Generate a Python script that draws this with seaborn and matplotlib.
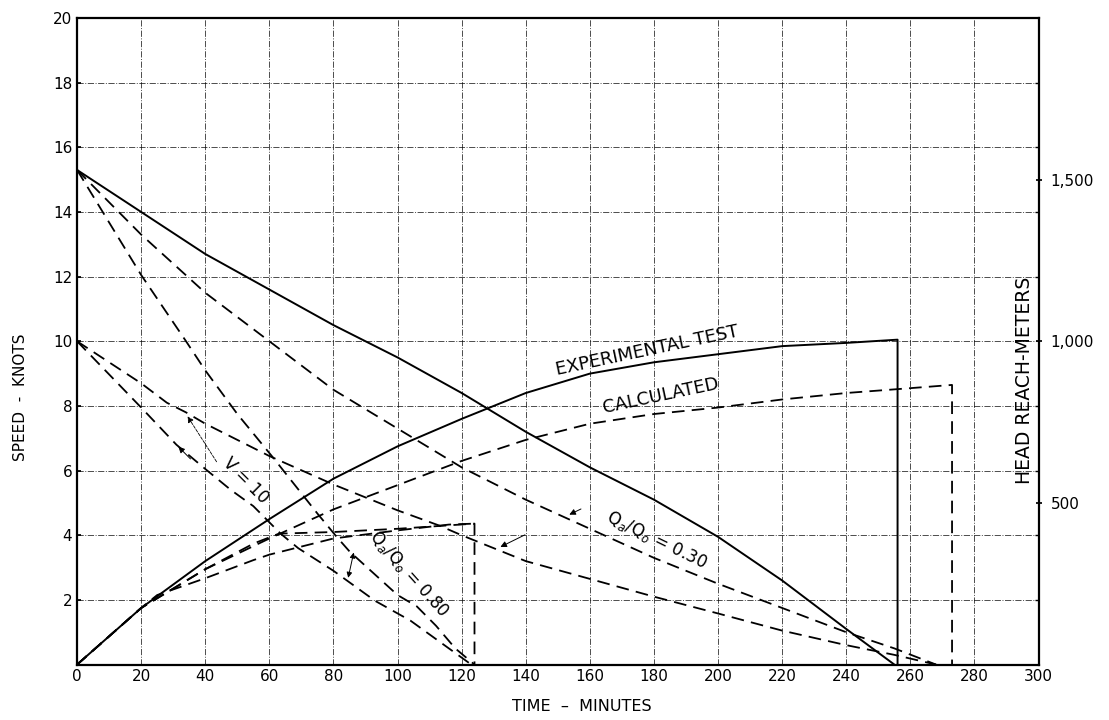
import matplotlib
matplotlib.use("Agg")
import matplotlib.pyplot as plt
import pandas as pd
import seaborn as sns

# values: time in minutes, speed / reach in knot-axis units
exp_speed_t = [0, 20, 40, 60, 80, 100, 120, 140, 160, 180, 200, 220, 240, 255]
exp_speed_v = [15.3, 14.0, 12.7, 11.6, 10.5, 9.5, 8.4, 7.2, 6.1, 5.1, 3.95, 2.6, 1.1, 0.0]

exp_reach_t = [0, 20, 40, 60, 80, 100, 120, 140, 160, 180, 200, 220, 240, 256, 256]
exp_reach_v = [0, 1.75, 3.2, 4.5, 5.75, 6.75, 7.6, 8.4, 9.0, 9.35, 9.6, 9.85, 9.95, 10.05, 0]

calc_reach_t = [0, 20, 40, 60, 80, 100, 120, 140, 160, 180, 200, 220, 240, 260, 273, 273]
calc_reach_v = [0, 1.75, 2.95, 3.9, 4.8, 5.55, 6.3, 6.95, 7.45, 7.75, 7.95, 8.2, 8.4, 8.55, 8.65, 0]

q30_v15_t = [0, 20, 40, 60, 80, 100, 120, 140, 160, 180, 200, 220, 240, 255, 268]
q30_v15_v = [15.3, 13.3, 11.5, 10.0, 8.5, 7.3, 6.1, 5.1, 4.2, 3.3, 2.5, 1.75, 1.0, 0.5, 0.0]

q80_v15_t = [0, 20, 34, 40, 50, 61.5, 75, 81, 85, 95, 100, 106, 112, 118, 124]
q80_v15_v = [15.3, 12.05, 10.0, 9.1, 7.75, 6.36, 4.67, 3.95, 3.5, 2.6, 2.15, 1.8, 1.2, 0.5, 0.0]

q80_v10_t = [0, 20, 31, 40, 48, 55, 63.5, 69, 80, 93, 104, 116, 123]
q80_v10_v = [10.0, 7.95, 6.8, 6.05, 5.4, 4.9, 4.05, 3.6, 2.9, 1.97, 1.36, 0.5, 0.0]

q30_v10_t = [0, 20, 28, 34, 40, 55, 60, 80, 100, 113, 120, 140, 160, 180, 200, 220, 240, 255, 268]
q30_v10_v = [10.0, 8.7, 8.1, 7.8, 7.45, 6.7, 6.45, 5.57, 4.77, 4.3, 4.0, 3.2, 2.65, 2.1, 1.58, 1.05, 0.6, 0.3, 0.0]

reach_a_t = [0, 20, 40, 55, 63, 80, 100, 124, 124]
reach_a_v = [0, 1.75, 2.95, 3.74, 4.05, 4.1, 4.2, 4.36, 0]

reach_b_t = [0, 20, 25, 40, 55, 60, 80, 100, 116, 124]
reach_b_v = [0, 1.75, 2.15, 2.67, 3.23, 3.4, 3.9, 4.15, 4.33, 4.36]

x_ticks = list(range(0, 301, 20))
y_ticks = list(range(2, 21, 2))
reach_ticks = [500, 1000, 1500]
reach_labels = ["500", "1,000", "1,500"]

sns.set_theme(style="white")
plt.rcParams["font.family"] = ["DejaVu Sans"]
plt.rcParams.update({"text.color": "black", "axes.labelcolor": "black",
                     "xtick.color": "black", "ytick.color": "black"})

fig = plt.figure(figsize=(11.09, 7.2), dpi=100)
ax = fig.add_axes([0.0695, 0.077, 0.867, 0.898])

DASH = (7, 4)


def draw(t, v, dashed=False, lw=1.3):
    df = pd.DataFrame({"t": t, "v": v})
    sns.lineplot(data=df, x="t", y="v", ax=ax, sort=False, estimator=None,
                 color="black", lw=lw,
                 linestyle=(0, DASH) if dashed else "-")


draw(exp_speed_t, exp_speed_v, lw=1.4)
draw(exp_reach_t, exp_reach_v, lw=1.4)
draw(calc_reach_t, calc_reach_v, dashed=True)
draw(q30_v15_t, q30_v15_v, dashed=True)
draw(q80_v15_t, q80_v15_v, dashed=True)
draw(q80_v10_t, q80_v10_v, dashed=True)
draw(q30_v10_t, q30_v10_v, dashed=True)
draw(reach_a_t, reach_a_v, dashed=True)
draw(reach_b_t, reach_b_v, dashed=True)

ax.set_xlim(0, 300)
ax.set_ylim(0, 20)
ax.set_xticks(x_ticks)
ax.set_yticks(y_ticks)
ax.tick_params(axis="both", labelsize=11, length=3, direction="in")
ax.grid(True, color="black", linestyle="-.", lw=0.7, alpha=0.7)
for s in ax.spines.values():
    s.set_color("black")
    s.set_linewidth(1.6)
ax.set_xlabel("TIME  –  MINUTES", fontsize=11.5)
ax.xaxis.set_label_coords(0.525, -0.054)
ax.set_ylabel("SPEED  -  KNOTS", fontsize=11)
ax.yaxis.set_label_coords(-0.051, 0.413)

ax2 = ax.twinx()
ax2.set_ylim(0, 2000)
ax2.set_yticks(reach_ticks)
ax2.set_yticklabels(reach_labels)
ax2.set_yticks(list(range(200, 2000, 200)), minor=True)
ax2.tick_params(axis="y", which="major", labelsize=11, length=5, direction="inout", pad=6)
ax2.tick_params(axis="y", which="minor", length=3, direction="in", color="black")
ax2.grid(False)
for s in ax2.spines.values():
    s.set_visible(False)
ax.text(0.985, 0.44, "HEAD REACH-METERS", transform=ax.transAxes, rotation=90,
        ha="center", va="center", fontsize=13.5)

# curve labels
ax.text(178, 9.72, "EXPERIMENTAL TEST", rotation=12, ha="center", va="center", fontsize=13)
ax.text(182, 8.3, "CALCULATED", rotation=12, ha="center", va="center", fontsize=13)
ax.text(181, 3.85, r"Q$_a$/Q$_o$ = 0.30", rotation=-26, ha="center", va="center", fontsize=12)
ax.text(103.5, 2.8, r"Q$_a$/Q$_o$ = 0.80", rotation=-48, ha="center", va="center", fontsize=12)
ax.text(52.5, 5.7, "V = 10", rotation=-45, ha="center", va="center", fontsize=12)

# leader lines
arrow = dict(arrowstyle="-|>", color="black", lw=0.7, mutation_scale=9)
ax.annotate("", xy=(152.8, 4.6), xytext=(158, 4.85), arrowprops=arrow)
ax.annotate("", xy=(131.3, 3.6), xytext=(140.5, 4.05), arrowprops=arrow)
ax.annotate("", xy=(86.5, 3.55), xytext=(84.4, 2.6),
            arrowprops=dict(arrowstyle="<|-|>", color="black", lw=0.7, mutation_scale=8))
ax.annotate("", xy=(34, 7.75), xytext=(44, 6.2),
            arrowprops=dict(arrowstyle="-|>", color="black", lw=0.6, ls="--", mutation_scale=9))
ax.annotate("", xy=(31, 6.8), xytext=(36, 6.3), arrowprops=arrow)

fig.savefig("out.png", dpi=100)
